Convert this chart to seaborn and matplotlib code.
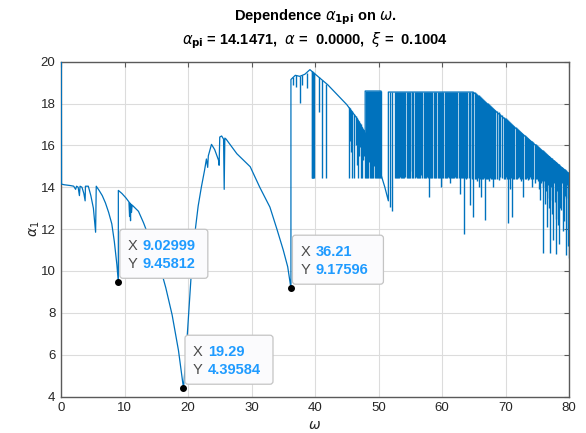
import numpy as np
import pandas as pd
import matplotlib
matplotlib.use("Agg")
import matplotlib.pyplot as plt
import seaborn as sns
from matplotlib.patches import FancyBboxPatch
from matplotlib.transforms import IdentityTransform

# ---------------- data ----------------
omega_main = [0.05, 0.08, 0.5, 1.0, 1.5, 2.0, 2.3, 2.45, 2.7, 2.9, 3.0, 3.3, 3.6, 3.8, 3.85,
              4.3, 4.7, 5.1, 5.45, 5.55, 6.0, 6.5, 7.0, 7.5, 8.0, 8.4, 8.8, 9.03,
              9.03, 9.6, 10.2, 10.7, 10.8, 10.85, 10.95, 11.0, 11.1, 11.2, 12.2, 13.0, 13.5,
              14.5, 15.5, 16.5, 17.5, 18.5, 19.29,
              19.6, 19.9, 20.2, 20.5, 20.8, 21.2, 21.6, 22.1, 22.6, 22.9, 23.1, 23.2, 23.7,
              24.2, 24.8, 24.9, 25.0, 25.3, 25.6, 25.7, 25.8, 26.0, 27.7, 29.8, 31.3, 32.9,
              34.0, 35.0, 35.7, 36.21,
              36.21, 36.9, 37.6, 38.4, 39.2, 42.0, 45.0, 46.6, 47.6, 47.9,
              47.9, 50.4, 50.4, 51.0, 51.55, 51.55, 64.9, 80.0]
alpha_main = [20.0, 14.15, 14.12, 14.1, 14.08, 14.05, 13.9, 14.05, 14.0, 13.6, 14.05, 14.0, 13.7, 13.35, 14.05,
              14.05, 13.6, 13.0, 11.85, 14.05, 13.85, 13.6, 13.25, 12.8, 12.25, 11.4, 10.3, 9.45812,
              13.85, 13.7, 13.5, 13.3, 12.6, 13.25, 12.4, 13.2, 12.8, 13.15, 12.85, 12.3, 11.9,
              11.2, 10.3, 9.2, 7.9, 6.2, 4.39584,
              5.6, 7.0, 8.4, 9.8, 11.0, 12.1, 13.1, 14.0, 14.8, 15.35, 14.95, 15.5, 16.05,
              15.8, 15.3, 15.05, 16.4, 16.45, 16.3, 13.9, 16.35, 16.3, 15.6, 14.98, 14.0, 13.05,
              12.0, 11.0, 10.2, 9.17596,
              19.15, 19.35, 19.3, 19.4, 19.62, 18.9, 17.95, 17.3, 16.75, 16.6,
              18.6, 18.6, 14.6, 14.0, 13.35, 18.55, 18.55, 14.65]

# deep spikes (omega, top, bottom)
spike_omega = [36.5, 37.0, 37.6, 38.0, 38.7,
               39.45, 39.65, 39.9, 40.6, 41.05, 41.8,
               45.3, 45.7, 46.2, 46.6, 46.9, 47.2, 47.5, 47.8,
               48.0, 48.3, 48.5, 48.8, 49.1, 49.3, 49.6, 49.9, 50.2,
               51.8, 52.05, 52.6, 52.9, 53.2, 53.5, 53.9, 54.2, 54.45, 54.95, 55.2, 55.5, 55.75,
               56.0, 56.4, 56.65, 56.9, 57.3, 57.6, 58.0, 58.25, 58.5, 58.9, 59.3, 59.8, 60.2,
               60.6, 60.9, 61.2, 61.7, 62.0, 62.2, 62.8, 63.1, 63.5, 63.8, 64.0, 64.4, 64.65, 64.9,
               65.2, 65.5, 65.8, 66.1, 66.4, 66.8, 67.1, 67.4, 67.7, 68.1, 68.4, 68.9, 69.2, 69.7,
               70.0, 70.4, 70.7, 71.0, 71.4, 71.8, 72.1, 72.4, 72.8, 73.2, 73.6, 73.9, 74.2, 74.6,
               74.9, 75.2, 75.4, 75.7, 75.96, 76.2, 76.5, 76.8, 77.0, 77.3, 77.5, 77.8, 78.0, 78.3,
               78.5, 78.8, 79.1, 79.3, 79.6, 79.8, 79.95]
spike_top = [19.28, 19.35, 19.3, 19.35, 19.48,
             19.57, 19.52, 19.45, 19.28, 19.12, 18.95,
             17.85, 17.7, 17.5, 17.3, 17.15, 17.0, 16.8, 16.65,
             18.6, 18.6, 18.6, 18.6, 18.6, 18.6, 18.6, 18.6, 18.6,
             18.55, 18.55, 18.55, 18.55, 18.55, 18.55, 18.55, 18.55, 18.55, 18.55, 18.55, 18.55, 18.55,
             18.55, 18.55, 18.55, 18.55, 18.55, 18.55, 18.55, 18.55, 18.55, 18.55, 18.55, 18.55, 18.55,
             18.55, 18.55, 18.55, 18.55, 18.55, 18.55, 18.55, 18.55, 18.55, 18.55, 18.55, 18.55, 18.55, 18.55,
             18.55, 18.47, 18.39, 18.31, 18.23, 18.13, 18.05, 17.97, 17.89, 17.79, 17.71, 17.58, 17.50, 17.37,
             17.29, 17.19, 17.11, 17.03, 16.92, 16.82, 16.74, 16.66, 16.56, 16.45, 16.35, 16.27, 16.19, 16.09,
             16.01, 15.93, 15.88, 15.80, 15.73, 15.67, 15.59, 15.51, 15.46, 15.38, 15.32, 15.25, 15.19, 15.12,
             15.06, 14.98, 14.91, 14.85, 14.77, 14.72, 14.68]
spike_bottom = [18.9, 18.8, 18.05, 18.9, 18.75,
                14.45, 14.45, 14.45, 17.6, 14.45, 14.45,
                14.45, 15.7, 14.45, 15.07, 15.5, 14.45, 15.3, 14.45,
                14.45, 14.45, 15.2, 14.45, 14.45, 15.0, 14.45, 14.45, 14.45,
                13.05, 12.85, 14.43, 14.43, 14.45, 14.43, 14.45, 14.5, 14.43, 14.43, 14.8, 14.43, 14.45,
                14.43, 14.43, 14.6, 14.43, 14.43, 14.5, 13.55, 14.45, 14.43, 14.43, 14.45, 14.0, 14.43,
                14.45, 14.5, 14.2, 14.43, 14.5, 14.43, 13.7, 14.45, 11.77, 14.4, 14.43, 13.15, 14.4, 12.6,
                14.4, 14.3, 14.0, 13.55, 14.4, 12.45, 14.4, 14.3, 14.4, 14.0, 14.4, 14.35, 14.5, 14.4,
                14.5, 12.3, 13.9, 12.6, 14.4, 14.4, 14.5, 14.3, 13.55, 14.4, 14.35, 14.5, 14.0, 14.2,
                14.4, 13.9, 13.4, 14.3, 10.85, 13.2, 12.1, 13.5, 10.85, 12.7, 11.5, 13.3, 10.8, 12.2,
                11.3, 12.9, 11.9, 13.6, 10.75, 12.0, 10.6]

# additional dense spikes (omega, top, bottom)
dense_omega = [39.55, 39.75, 45.5, 45.9, 46.4, 46.75, 47.05, 47.35, 47.65,
               48.15, 48.65, 48.95, 49.45, 49.75, 50.05, 50.35,
               52.75, 53.05, 53.35, 53.7, 54.05, 54.6, 54.8, 55.35, 55.9, 56.2, 56.5, 57.1, 57.45,
               57.8, 58.1, 58.7, 59.1, 59.5, 59.65, 60.0, 60.4, 60.75, 61.05, 61.4, 61.55, 61.85,
               62.4, 62.6, 62.95, 63.3, 63.65, 64.2, 64.8,
               65.35, 65.65, 65.95, 66.25, 66.6, 66.95, 67.25, 67.55, 67.9, 68.25, 68.65, 69.05,
               69.45, 69.85, 70.2, 70.55, 70.85, 71.2, 71.6, 71.95, 72.25, 72.6, 73.0, 73.4, 73.75,
               74.05, 74.4, 74.75, 75.05, 75.55, 75.85, 76.05, 76.35, 76.65, 76.9, 77.15, 77.4,
               77.65, 77.9, 78.15, 78.4, 78.65, 78.95, 79.2, 79.45, 79.7, 79.9]
dense_top = [19.55, 19.5, 17.78, 17.63, 17.4, 17.22, 17.07, 16.9, 16.72,
             18.6, 18.6, 18.6, 18.6, 18.6, 18.6, 18.6,
             18.55, 18.55, 18.55, 18.55, 18.55, 18.55, 18.55, 18.55, 18.55, 18.55, 18.55, 18.55, 18.55,
             18.55, 18.55, 18.55, 18.55, 18.55, 18.55, 18.55, 18.55, 18.55, 18.55, 18.55, 18.55, 18.55,
             18.55, 18.55, 18.55, 18.55, 18.55, 18.55, 18.55,
             18.51, 18.43, 18.35, 18.27, 18.18, 18.09, 18.01, 17.93, 17.84, 17.75, 17.64, 17.54,
             17.44, 17.33, 17.24, 17.15, 17.07, 16.98, 16.87, 16.78, 16.70, 16.61, 16.50, 16.40, 16.31,
             16.23, 16.14, 16.05, 15.97, 15.84, 15.76, 15.71, 15.63, 15.55, 15.49, 15.42, 15.35,
             15.28, 15.22, 15.16, 15.09, 15.02, 14.95, 14.88, 14.81, 14.75, 14.70]
dense_bottom = [14.45, 14.45, 16.2, 14.45, 16.0, 14.45, 15.9, 14.45, 15.5,
                14.45, 14.45, 14.45, 14.45, 14.45, 14.45, 14.45,
                14.45, 14.43, 14.5, 14.43, 14.43, 14.45, 14.43, 14.43, 14.5, 14.43, 14.43, 14.43, 14.45,
                14.43, 14.43, 14.43, 14.43, 14.45, 14.43, 14.43, 14.43, 14.43, 14.45, 14.43, 14.43, 14.45,
                14.43, 14.43, 14.43, 14.43, 14.43, 14.43, 14.43,
                14.4, 14.45, 14.4, 14.4, 14.45, 14.4, 14.4, 14.45, 14.4, 14.4, 14.4, 14.4,
                14.45, 14.4, 14.4, 14.4, 14.45, 14.4, 14.4, 14.45, 14.4, 14.4, 14.4, 14.45, 14.4,
                14.4, 14.4, 14.4, 14.3, 14.2, 14.0, 14.3, 13.8, 14.1, 13.0, 14.0, 13.4,
                14.2, 12.5, 13.8, 14.0, 13.0, 14.2, 12.4, 13.5, 14.1, 11.2]

tip_x = [9.02999, 19.29, 36.21]
tip_y = [9.45812, 4.39584, 9.17596]
tip_xtext = ["9.02999", "19.29", "36.21"]
tip_ytext = ["9.45812", "4.39584", "9.17596"]
tip_width = [88, 88, 91]

x_ticks = [0, 10, 20, 30, 40, 50, 60, 70, 80]
y_ticks = [4, 6, 8, 10, 12, 14, 16, 18, 20]

# ---------------- style ----------------
sns.set_style("white")
plt.rcParams['font.family'] = ['Liberation Sans', 'DejaVu Sans']
plt.rcParams['mathtext.fontset'] = 'dejavusans'

LINE = '#0072BD'
W, H, DPI = 586, 433, 100
fig = plt.figure(figsize=(W / DPI, H / DPI), dpi=DPI)
ax = fig.add_axes([61 / W, 1 - 396.5 / H, (569 - 61) / W, (396.5 - 61.7) / H])

df = pd.DataFrame({"omega": omega_main, "alpha": alpha_main})
sns.lineplot(data=df, x="omega", y="alpha", sort=False, estimator=None,
             color=LINE, lw=0.9, ax=ax, zorder=3)
ax.vlines(spike_omega, spike_bottom, spike_top, color=LINE, lw=1.0, zorder=3)
ax.vlines(dense_omega, dense_bottom, dense_top, color=LINE, lw=1.0, zorder=3)

ax.set_xlim(0, 80)
ax.set_ylim(4, 20)
ax.set_xticks(x_ticks)
ax.set_yticks(y_ticks)
ax.grid(True, color='#dcdcdc', lw=0.8, zorder=0)
ax.set_axisbelow(True)
for s in ax.spines.values():
    s.set_color('#5a5a5a')
    s.set_linewidth(1.0)
ax.tick_params(direction='in', length=3.5, width=0.8, color='#5a5a5a',
               labelsize=9.5, labelcolor='#262626', top=True, right=True,
               labeltop=False, labelright=False, pad=4)
ax.set_xlabel(r"$\omega$", fontsize=10, color='#262626', labelpad=3)
ax.set_ylabel(r"$\alpha_1$", fontsize=10, color='#262626', labelpad=-1)

# title
cx = (61 + 569) / 2 / W
fig.text(cx, 1 - 17 / H, r"Dependence $\alpha_{\mathbf{1pi}}$ on $\omega$.",
         ha='center', va='center', fontsize=10.5, fontweight='bold', color='black')
fig.text(cx, 1 - 41 / H, r"$\alpha_{\mathbf{pi}}$ = 14.1471,  $\alpha$ =  0.0000,  $\xi$ =  0.1004",
         ha='center', va='center', fontsize=10.5, fontweight='bold', color='black')

# data tips
ax.scatter(tip_x, tip_y, s=16, color='black', zorder=6)
fig.canvas.draw()
ident = IdentityTransform()
for xv, yv, xs, ys, bw in zip(tip_x, tip_y, tip_xtext, tip_ytext, tip_width):
    px, py = ax.transData.transform((xv, yv))
    left = px + 1.5
    bottom = py + 4
    bh = 49
    box = FancyBboxPatch((left + 2, bottom + 2), bw - 4, bh - 4,
                         boxstyle="round,pad=2,rounding_size=3",
                         transform=ident, facecolor='#fbfbfd', edgecolor='#c4c4c4',
                         lw=0.9, zorder=5)
    fig.add_artist(box)
    top = bottom + bh
    for i, (lab, val) in enumerate((("X", xs), ("Y", ys))):
        yy = top - 16.5 - i * 18
        fig.text(left + 8, yy, lab, transform=ident, ha='left', va='center',
                 fontsize=10.5, color='#4a4a4a', zorder=7)
        fig.text(left + 23, yy, val, transform=ident, ha='left', va='center',
                 fontsize=10.5, fontweight='bold', color='#1f9bff', zorder=7)

fig.savefig("out.png", dpi=DPI)
